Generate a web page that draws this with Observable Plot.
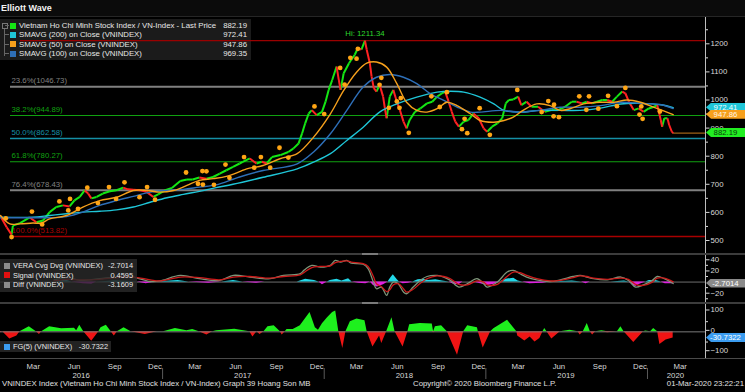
<!DOCTYPE html>
<html><head><meta charset="utf-8">
<script src="https://cdn.jsdelivr.net/npm/d3@7"></script>
<script src="https://cdn.jsdelivr.net/npm/@observablehq/plot@0.6"></script>
<style>
body{margin:0;background:#000;}
#root{position:relative;width:745px;height:392px;overflow:hidden;background:#000;
 font-family:"Liberation Sans",Arial,sans-serif;color:#e0e0e0;font-size:7.8px;}
.a{position:absolute;white-space:nowrap;}
.row{position:absolute;left:0;right:0;height:9px;line-height:9px;}
.sq{position:absolute;width:6px;height:6px;top:1.5px;}
.tag{position:absolute;left:706px;width:39px;height:9px;line-height:9px;text-align:center;font-size:7.8px;
 clip-path:polygon(5px 0,100% 0,100% 100%,5px 100%,0 50%);}
</style></head><body><div id="root"></div>
<script>
// ---------------- DATA ----------------
const titleText = "Elliott Wave";
const priceData = [
["2016-01-01",586],["2016-01-15",547],["2016-01-26",521],["2016-01-29",553],["2016-02-14",562],["2016-03-07",582],
["2016-03-22",565],["2016-04-06",571],["2016-04-21",601],["2016-05-06",619],["2016-05-21",625],["2016-06-05",621],
["2016-06-16",643],["2016-06-28",655],["2016-07-09",678],["2016-07-17",667],["2016-07-24",650],["2016-08-05",655],
["2016-08-19",667],["2016-09-04",675],["2016-09-19",679],["2016-10-04",688],["2016-10-15",682],["2016-10-27",681],
["2016-11-11",679],["2016-11-26",673],["2016-12-11",655],["2016-12-22",664],["2017-01-07",679],["2017-01-22",687],
["2017-02-10",712],["2017-02-25",717],["2017-03-10",717],["2017-03-25",724],["2017-04-10",720],["2017-04-25",726],
["2017-05-10",738],["2017-05-25",750],["2017-06-09",762],["2017-06-24",774],["2017-07-01",780],["2017-07-17",792],
["2017-08-01",774],["2017-08-13",780],["2017-08-24",774],["2017-09-05",797],["2017-09-24",804],["2017-10-12",815],
["2017-10-23",827],["2017-11-04",845],["2017-11-12",881],["2017-11-19",917],["2017-11-27",952],["2017-12-04",964],
["2017-12-15",946],["2017-12-27",958],["2018-01-04",994],["2018-01-11",1036],["2018-01-19",1071],["2018-01-29",1119],
["2018-02-03",1071],["2018-02-07",1036],["2018-02-14",1095],["2018-02-26",1131],["2018-03-03",1143],["2018-03-11",1161],
["2018-03-18",1185],["2018-03-26",1179],["2018-04-03",1211],["2018-04-07",1179],["2018-04-14",1131],["2018-04-18",1083],
["2018-04-23",1042],["2018-04-29",1030],["2018-05-06",1054],["2018-05-14",1012],["2018-05-18",970],["2018-05-22",935],
["2018-05-29",1012],["2018-06-06",1036],["2018-06-14",994],["2018-06-21",964],["2018-06-29",923],["2018-07-06",899],
["2018-07-13",929],["2018-07-25",958],["2018-08-06",970],["2018-08-21",988],["2018-09-02",994],["2018-09-13",1012],
["2018-09-24",1024],["2018-10-01",1030],["2018-10-09",994],["2018-10-16",958],["2018-10-24",923],["2018-11-01",905],
["2018-11-12",923],["2018-11-23",929],["2018-12-04",952],["2018-12-16",935],["2018-12-27",899],["2019-01-04",887],
["2019-01-15",905],["2019-01-27",917],["2019-02-07",935],["2019-02-15",988],["2019-02-22",1000],["2019-03-04",1002],
["2019-03-15",1012],["2019-03-22",982],["2019-04-03",994],["2019-04-14",976],["2019-04-29",976],["2019-05-14",958],
["2019-05-29",964],["2019-06-13",964],["2019-06-29",976],["2019-07-14",994],["2019-07-25",994],["2019-08-06",988],
["2019-08-17",994],["2019-08-29",988],["2019-09-09",994],["2019-09-21",1000],["2019-10-02",1000],["2019-10-13",994],
["2019-10-24",1012],["2019-11-05",1030],["2019-11-12",1024],["2019-11-20",994],["2019-12-01",964],["2019-12-12",970],
["2019-12-23",958],["2020-01-04",970],["2020-01-16",976],["2020-01-23",982],["2020-01-31",929],["2020-02-03",905],
["2020-02-08",935],["2020-02-15",935],["2020-02-19",911],["2020-02-25",887],["2020-02-28",882.19]];

const sma50Data = [
["2016-01-01",589],["2016-01-22",559],["2016-02-14",559],["2016-03-14",562],["2016-04-02",562],["2016-04-21",577],
["2016-05-29",589],["2016-07-05",619],["2016-08-12",642],["2016-09-19",654],["2016-10-27",678],["2016-11-26",678],
["2016-12-26",672],["2017-01-26",678],["2017-02-25",696],["2017-03-25",714],["2017-04-25",720],["2017-05-25",728],
["2017-06-24",745],["2017-07-10",755],["2017-08-16",767],["2017-09-23",791],["2017-11-01",809],["2017-12-08",868],
["2018-01-15",951],["2018-02-14",1034],["2018-03-15",1099],["2018-04-07",1131],["2018-04-29",1135],["2018-05-22",1117],
["2018-06-14",1058],["2018-07-06",992],["2018-07-29",963],["2018-08-21",957],["2018-09-13",969],["2018-10-05",992],
["2018-10-28",980],["2018-11-27",951],["2018-12-19",927],["2019-01-19",921],["2019-02-11",927],["2019-03-04",939],
["2019-03-26",963],["2019-04-26",986],["2019-05-26",980],["2019-06-18",963],["2019-07-10",969],["2019-08-10",986],
["2019-09-17",992],["2019-10-17",992],["2019-11-16",1000],["2019-12-16",992],["2020-01-16",974],["2020-02-28",947.86]];

const sma100Data = [
["2016-01-01",581],["2016-02-06",581],["2016-03-14",581],["2016-04-21",581],["2016-05-29",585],["2016-07-05",601],
["2016-08-12",625],["2016-09-19",642],["2016-10-27",657],["2016-12-04",672],["2017-01-11",678],["2017-02-17",682],
["2017-03-25",690],["2017-05-02",698],["2017-06-09",718],["2017-06-24",726],["2017-08-16",749],["2017-11-01",773],
["2017-12-08",815],["2018-01-15",880],["2018-02-21",963],["2018-03-30",1046],["2018-04-29",1081],["2018-05-29",1091],
["2018-06-29",1081],["2018-07-29",1058],["2018-08-29",1022],["2018-09-28",999],["2018-10-28",975],["2018-11-27",957],
["2018-12-19",957],["2019-02-04",963],["2019-03-19",957],["2019-05-03",963],["2019-06-18",974],["2019-08-02",974],
["2019-09-17",980],["2019-11-02",992],["2019-12-16",988],["2020-02-01",983],["2020-02-28",969.35]];

const sma200Data = [
["2016-01-01",583],["2016-03-14",583],["2016-04-21",589],["2016-05-29",595],["2016-07-05",601],["2016-08-12",604],
["2016-09-19",609],["2016-10-27",619],["2016-12-04",636],["2017-01-11",652],["2017-02-17",664],["2017-03-25",675],
["2017-05-02",688],["2017-06-09",700],["2017-08-16",725],["2017-11-01",755],["2017-12-08",779],["2018-01-15",809],
["2018-02-21",856],["2018-03-30",903],["2018-05-06",957],["2018-06-14",986],["2018-07-29",1010],["2018-09-13",1028],
["2018-10-13",1031],["2018-11-12",1028],["2018-12-19",1010],["2019-01-19",986],["2019-02-11",963],["2019-03-19",957],
["2019-05-03",963],["2019-06-18",963],["2019-08-02",963],["2019-09-17",971],["2019-11-02",986],["2019-12-16",988],
["2020-02-01",983],["2020-02-28",972.41]];

const pivotData = [
["2016-01-13",579],["2016-01-26",512],["2016-03-12",603],["2016-04-04",557],["2016-05-13",639],["2016-06-02",607],
["2016-06-06",648],["2016-06-24",612],["2016-07-15",688],["2016-08-08",633],["2016-09-02",690],["2016-09-18",648],
["2016-10-07",707],["2016-11-10",654],["2016-11-27",690],["2016-12-15",645],["2017-02-23",742],["2017-03-22",702],
["2017-04-01",747],["2017-04-10",746],["2017-04-02",699],["2017-04-27",698],["2017-05-23",770],["2017-06-01",723],
["2017-07-04",797],["2017-07-27",759],["2017-08-11",797],["2017-09-01",759],["2017-09-22",830],["2017-10-12",795],
["2017-12-10",977],["2018-01-01",950],["2018-02-06",1114],["2018-02-16",1055],["2018-03-01",1150],["2018-03-15",1147],
["2018-03-18",1182],["2018-05-10",1079],["2018-05-06",1054],["2018-05-27",972],["2018-06-14",995],["2018-06-23",1007],
["2018-06-20",972],["2018-07-11",883],["2018-08-31",1013],["2018-09-19",975],["2018-10-05",1028],["2018-11-08",896],
["2018-11-14",933],["2018-11-20",882],["2018-12-18",971],["2019-01-10",876],["2019-03-13",1036],["2019-05-07",957],
["2019-05-22",996],["2019-06-04",983],["2019-06-03",942],["2019-06-15",939],["2019-07-31",1013],["2019-08-16",965],
["2019-08-22",1013],["2019-09-12",969],["2019-10-04",1015],["2019-10-24",978],["2019-11-12",1043],["2019-12-14",948],
["2019-12-18",977],["2019-12-21",933],["2020-01-29",959]];

const fibPct = ["23.6%","38.2%","50.0%","61.8%","76.4%","100.0%"];
const fibValues = [1046.73, 944.89, 862.58, 780.27, 678.43, 513.82];
const hiValue = 1211.34;
const hiDate = "2018-04-03";

const mainLegendLabels = ["Vietnam Ho Chi Minh Stock Index / VN-Index - Last Price","SMAVG (200)  on Close (VNINDEX)","SMAVG (50)  on Close (VNINDEX)","SMAVG (100)  on Close (VNINDEX)"];
const mainLegendValues = ["882.19","972.41","947.86","969.35"];
const mainTicks = [500,600,700,800,900,1000,1100,1200];

const veraData = [
["2016-05-01",4],["2016-06-01",8],["2016-06-28",3],["2016-08-12",6],["2016-09-19",9],["2016-10-26",9],["2016-12-04",1],
["2016-12-26",2],["2017-02-10",12],["2017-03-25",6],["2017-05-10",3],["2017-06-10",12],["2017-07-17",9],["2017-09-01",6],
["2017-10-01",12],["2017-11-08",15],["2017-11-16",21],["2017-12-04",30],["2017-12-23",27],["2018-01-15",30],["2018-01-26",39],
["2018-02-07",36],["2018-02-21",39],["2018-03-03",34],["2018-03-30",32],["2018-04-10",24],["2018-04-22",0],["2018-04-29",-12],
["2018-05-10",-9],["2018-05-22",-24],["2018-05-29",-9],["2018-06-06",0],["2018-06-17",-3],["2018-06-29",-18],["2018-07-06",-21],
["2018-07-21",-9],["2018-08-06",3],["2018-08-21",10],["2018-09-13",12],["2018-09-28",9],["2018-10-13",3],["2018-11-01",-9],
["2018-11-20",-3],["2018-12-12",6],["2018-12-27",-3],["2019-01-04",-9],["2019-01-27",0],["2019-02-18",18],["2019-03-04",21],
["2019-03-19",15],["2019-04-03",9],["2019-04-26",4],["2019-05-26",1],["2019-06-18",4],["2019-07-17",10],["2019-08-02",12],
["2019-08-17",9],["2019-09-01",6],["2019-10-02",4],["2019-11-02",9],["2019-11-19",3],["2019-12-05",-9],["2019-12-23",-5],
["2020-01-12",3],["2020-01-23",10],["2020-02-08",6],["2020-02-28",-2.7014]];

const signalData = [
["2016-05-01",2],["2016-06-01",5],["2016-06-28",4],["2016-08-12",5],["2016-09-19",8],["2016-10-26",9],["2016-12-04",4],
["2016-12-26",2],["2017-02-10",9],["2017-03-25",8],["2017-05-10",4],["2017-06-10",9],["2017-07-17",10],["2017-09-01",7],
["2017-10-01",10],["2017-11-08",13],["2017-11-16",17],["2017-12-04",26],["2017-12-23",28],["2018-01-15",29],["2018-01-26",35],
["2018-02-07",37],["2018-02-21",38],["2018-03-03",36],["2018-03-30",33],["2018-04-10",28],["2018-04-22",10],["2018-04-29",-3],
["2018-05-10",-8],["2018-05-22",-17],["2018-05-29",-14],["2018-06-06",-5],["2018-06-17",-3],["2018-06-29",-12],["2018-07-06",-18],
["2018-07-21",-13],["2018-08-06",-2],["2018-08-21",6],["2018-09-13",11],["2018-09-28",10],["2018-10-13",6],["2018-11-01",-4],
["2018-11-20",-5],["2018-12-12",2],["2018-12-27",0],["2019-01-04",-5],["2019-01-27",-4],["2019-02-18",10],["2019-03-04",18],
["2019-03-19",17],["2019-04-03",12],["2019-04-26",6],["2019-05-26",2],["2019-06-18",3],["2019-07-17",8],["2019-08-02",11],
["2019-08-17",10],["2019-09-01",7],["2019-10-02",5],["2019-11-02",7],["2019-11-19",5],["2019-12-05",-4],["2019-12-23",-6],
["2020-01-12",0],["2020-01-23",7],["2020-02-08",7],["2020-02-28",0.4595]];

const diffData = [
["2016-05-01",0],["2016-05-15",2],["2016-05-25",4],["2016-06-10",0],["2016-07-05",-3],["2016-07-25",-4],["2016-08-05",0],
["2016-09-15",2],["2016-10-20",1],["2016-11-05",0],["2016-11-25",-3],["2016-12-15",0],["2017-02-05",3],["2017-03-01",0],
["2017-04-15",-2],["2017-05-15",0],["2017-06-10",3],["2017-07-01",0],["2017-08-01",-2],["2017-08-20",0],["2017-11-01",0],
["2017-11-20",5],["2017-12-10",3],["2017-12-20",0],["2017-12-28",-5],["2018-01-08",0],["2018-01-15",3],["2018-01-30",5],
["2018-02-10",2],["2018-02-25",6],["2018-03-05",0],["2018-03-20",-2],["2018-04-05",-3],["2018-04-15",0],["2018-04-22",-6],
["2018-05-01",-9],["2018-05-15",-5],["2018-05-25",0],["2018-06-01",8],["2018-06-06",13],["2018-06-15",4],["2018-06-20",0],
["2018-06-28",-3],["2018-07-10",-2],["2018-07-20",0],["2018-08-01",4],["2018-08-15",5],["2018-08-25",3],["2018-09-10",4],
["2018-09-25",2],["2018-10-10",0],["2018-10-20",-4],["2018-11-01",-5],["2018-11-10",0],["2018-12-05",0],["2018-12-20",-3],
["2019-01-05",-6],["2019-01-20",-4],["2019-02-01",0],["2019-02-15",5],["2019-03-05",7],["2019-03-15",2],["2019-03-25",0],
["2019-04-10",-3],["2019-05-10",-2],["2019-05-25",0],["2019-06-20",1],["2019-07-15",2],["2019-08-05",0],["2019-08-15",-3],
["2019-08-25",0],["2019-10-10",0],["2019-11-10",2],["2019-11-20",0],["2019-11-28",-5],["2019-12-05",-8],["2019-12-15",-4],
["2019-12-28",0],["2020-01-05",3],["2020-01-20",3],["2020-02-01",0],["2020-02-10",-3],["2020-02-28",-3.1609]];

const veraLegendLabels = ["VERA Cvg Dvg (VNINDEX)","Signal (VNINDEX)","Diff (VNINDEX)"];
const veraLegendValues = ["-2.7014","0.4595","-3.1609"];
const veraTicks = [40,20,-20];

const fgData = [
["2016-01-01",-5],["2016-01-06",0],["2016-01-22",-35],["2016-02-07",-20],["2016-02-14",0],["2016-03-06",25],["2016-03-22",0],
["2016-03-29",-13],["2016-04-03",0],["2016-04-21",25],["2016-05-18",15],["2016-06-16",18],["2016-06-21",5],["2016-06-28",33],
["2016-07-07",0],["2016-07-25",-46],["2016-08-10",0],["2016-08-15",20],["2016-08-27",33],["2016-09-07",0],["2016-09-14",-20],
["2016-09-21",0],["2016-10-06",20],["2016-10-22",0],["2016-11-23",-13],["2016-12-20",0],["2017-01-03",0],["2017-01-30",16],
["2017-02-25",5],["2017-03-10",12],["2017-03-25",0],["2017-04-11",-16],["2017-04-24",0],["2017-05-03",5],["2017-06-13",13],
["2017-07-17",0],["2017-07-24",-25],["2017-08-02",0],["2017-08-09",-13],["2017-08-18",0],["2017-08-27",25],["2017-09-10",30],
["2017-09-24",0],["2017-09-28",-16],["2017-10-05",0],["2017-10-09",11],["2017-10-23",11],["2017-11-08",30],["2017-11-30",95],
["2017-12-12",20],["2017-12-19",8],["2017-12-28",40],["2018-01-09",70],["2018-01-20",95],["2018-01-27",103],["2018-02-03",0],
["2018-02-12",-82],["2018-02-19",0],["2018-03-01",50],["2018-03-16",63],["2018-04-03",55],["2018-04-08",0],["2018-04-21",-74],
["2018-05-06",-20],["2018-05-11",-57],["2018-05-22",0],["2018-06-03",69],["2018-06-10",0],["2018-06-28",-74],["2018-07-09",0],
["2018-07-13",35],["2018-08-06",41],["2018-09-02",38],["2018-09-05",-5],["2018-09-09",25],["2018-09-23",30],["2018-10-06",0],
["2018-10-29",-115],["2018-11-12",0],["2018-11-21",30],["2018-12-13",20],["2018-12-15",0],["2018-12-26",-79],["2019-01-12",0],
["2019-01-19",15],["2019-02-19",57],["2019-03-12",0],["2019-03-14",-20],["2019-03-30",-45],["2019-04-11",-25],["2019-04-22",-50],
["2019-05-03",-33],["2019-05-10",0],["2019-05-14",16],["2019-05-19",0],["2019-05-30",-35],["2019-06-18",0],["2019-07-10",8],
["2019-07-28",0],["2019-08-02",-16],["2019-08-09",0],["2019-08-18",41],["2019-08-25",0],["2019-08-30",-16],["2019-09-06",0],
["2019-09-20",5],["2019-10-03",-5],["2019-10-25",0],["2019-11-02",25],["2019-11-09",0],["2019-12-01",-52],["2019-12-23",0],
["2019-12-28",4],["2020-01-08",0],["2020-01-15",16],["2020-01-24",0],["2020-01-29",-62],["2020-02-12",-40],["2020-02-28",-30.7322]];
const fgLegendLabel = "FG(5) (VNINDEX)";
const fgLegendValue = "-30.7322";
const fgTicks = [100,0,-100];

const monthTicks = ["2016-03-15","2016-06-15","2016-09-15","2016-12-15","2017-03-15","2017-06-15","2017-09-15","2017-12-15",
 "2018-03-15","2018-06-15","2018-09-15","2018-12-15","2019-03-15","2019-06-15","2019-09-15","2019-12-15","2020-03-15"];
const yearLabels = ["2016","2017","2018","2019","2020"];
const yearLabelAt = ["2016-07-01","2017-07-01","2018-07-01","2019-07-01","2020-03-04"];
const yearBounds = ["2017-01-01","2018-01-01","2019-01-01","2020-01-01"];
const footerLeft = "VNINDEX Index (Vietnam Ho Chi Minh Stock Index / VN-Index) Graph 39 Hoang Son MB";
const footerMid = "Copyright\u00a9 2020 Bloomberg Finance L.P.";
const footerRight = "01-Mar-2020 23:22:21";

// ---------------- STYLE ----------------
const FONT = '"Liberation Sans",Arial,sans-serif';
const FS = 7.8;
const C = {green:"#14e614", red:"#ff2222", cyan:"#1fc6d8", orange:"#f6a01c", blue:"#2e6fb8", dot:"#ffa514",
  fib:{"23.6%":"#808080","38.2%":"#10a010","50.0%":"#1590a6","61.8%":"#10a010","76.4%":"#808080","100.0%":"#a80000"},
  fibW:{"23.6%":2,"38.2%":1.2,"50.0%":1.5,"61.8%":1.2,"76.4%":2,"100.0%":1.5},
  hi:"#9a0000", vera:"#7d9478", signal:"#cc1a1a", pos:"#22d8e8", neg:"#e020e0", fgPos:"#1ef01e", fgNeg:"#f01414", axis:"#d8d8d8"};
const W = 745, MR = 40;
const xDomain = [new Date("2016-01-01"), new Date("2020-05-11")];
const parse = arr => arr.map(([d, v]) => ({date: new Date(d), v}));

const root = document.getElementById("root");
function div(css, html) { const e = document.createElement("div"); e.className = "a"; e.style.cssText = css; if (html != null) e.textContent = html; root.appendChild(e); return e; }
function place(svg, top, z) { svg.style.position = "absolute"; svg.style.left = "0px"; svg.style.top = top + "px"; svg.style.zIndex = z; root.appendChild(svg); return svg; }
function base(h, ydom) {
  return {width: W, height: h, marginLeft: 0, marginRight: MR, marginTop: 0, marginBottom: 0,
    x: {type: "utc", domain: xDomain, axis: null}, y: {domain: ydom},
    style: {background: "transparent", color: C.axis, fontFamily: FONT, fontSize: FS + "px", overflow: "visible"}};
}
const signed = d => d < 0 ? "\u2212" + (-d) : String(d);

// ---------------- TITLE ----------------
div("left:0;top:0;width:745px;height:16px;background:#0b0b0b;border-bottom:1px solid #262626;");
div("left:1px;top:3px;font-weight:bold;font-size:9px;color:#f2f2f2;", titleText);

// ---------------- MAIN PANEL ----------------
const MAIN_TOP = 17, MAIN_H = 236;
const price = parse(priceData);
const segs = price.slice(1).map((d, i) => ({x1: price[i].date, y1: price[i].v, x2: d.date, y2: d.v}));
const fibs = fibPct.map((p, i) => ({p, v: fibValues[i]}));
const last = price[price.length - 1];

// legend (behind the chart)
const lg = div("left:0;top:19px;width:251px;height:41px;background:#1b1b1b;z-index:0;");
lg.innerHTML = `<div style="position:absolute;left:2px;top:4px;width:4px;height:4px;border:1px solid #777"></div>
<div style="position:absolute;left:4px;top:10px;width:1px;height:27px;background:#666"></div>`;
const legCols = [C.green, C.cyan, C.orange, C.blue];
mainLegendLabels.forEach((t, i) => {
  const r = document.createElement("div"); r.className = "row"; r.style.top = (2 + i * 9.4) + "px";
  r.innerHTML = `<div style="position:absolute;left:5px;top:4px;width:4px;height:1px;background:#666"></div>
  <div class="sq" style="left:10px;background:${legCols[i]}"></div>
  <span style="position:absolute;left:19px;color:#e8e8e8">${t}</span>
  <span style="position:absolute;right:4px;color:#e8e8e8">${mainLegendValues[i]}</span>`;
  lg.appendChild(r);
});

const mainPlot = Plot.plot({
  ...base(MAIN_H, [453.7, 1293.6]),
  marks: [
    Plot.ruleY(fibs, {y: "v", stroke: d => C.fib[d.p], strokeWidth: d => C.fibW[d.p], insetLeft: 10}),
    Plot.text(fibs, {frameAnchor: "left", y: "v", text: d => `${d.p}(${d.v.toFixed(2)})`, fill: d => C.fib[d.p],
      textAnchor: "start", dx: 11, dy: -6, fontSize: FS}),
    Plot.ruleY([hiValue], {stroke: C.hi, strokeWidth: 1.2, insetLeft: 20}),
    Plot.ruleY([last.v], {x1: () => last.date, x2: () => xDomain[1], stroke: "#c77b1e", strokeWidth: 1}),
    Plot.link(segs.filter(d => d.y2 >= d.y1), {x1: "x1", y1: "y1", x2: "x2", y2: "y2", stroke: C.green, strokeWidth: 2}),
    Plot.link(segs.filter(d => d.y2 < d.y1), {x1: "x1", y1: "y1", x2: "x2", y2: "y2", stroke: C.red, strokeWidth: 2}),
    Plot.line(parse(sma200Data), {x: "date", y: "v", stroke: C.cyan, strokeWidth: 1.4, curve: "catmull-rom"}),
    Plot.line(parse(sma100Data), {x: "date", y: "v", stroke: C.blue, strokeWidth: 1.4, curve: "catmull-rom"}),
    Plot.line(parse(sma50Data), {x: "date", y: "v", stroke: C.orange, strokeWidth: 1.4, curve: "catmull-rom"}),
    Plot.dot(parse(pivotData), {x: "date", y: "v", r: 2.4, fill: C.dot, stroke: null}),
    Plot.text([{date: new Date(hiDate), v: hiValue}], {x: "date", y: "v", text: () => `Hi: ${hiValue}`, dy: -7,
      fill: "#2ed82e", fontSize: FS}),
    Plot.ruleX([xDomain[1]], {stroke: "#bdbdbd", strokeWidth: 1}),
    Plot.axisY({anchor: "right", ticks: d3.range(450, 1300, 50).filter(v => v % 100), tickSize: 2, tickFormat: () => "", label: null, color: C.axis}),
    Plot.axisY({anchor: "right", ticks: mainTicks, tickSize: 3.5, tickPadding: 1.5, tickFormat: d => String(d), label: null, color: C.axis, fontSize: FS})
  ]
});
place(mainPlot, MAIN_TOP, 1);

// ---------------- SEPARATORS ----------------
div("left:0;top:253px;width:745px;height:2px;background:#3c3c3c;z-index:3;");
div("left:362px;top:253px;width:16px;height:2px;background:#7a7a7a;z-index:3;");
div("left:0;top:302px;width:745px;height:2px;background:#3c3c3c;z-index:3;");
div("left:362px;top:302px;width:16px;height:2px;background:#7a7a7a;z-index:3;");
div("left:0;top:358px;width:745px;height:1px;background:#4a4a4a;z-index:3;");

// ---------------- VERA PANEL ----------------
const VERA_TOP = 255, VERA_H = 47;
const diff = parse(diffData);
const veraPlot = Plot.plot({
  ...base(VERA_H, [-36.7, 47.7]),
  marks: [
    Plot.ruleY([0], {stroke: "#6e6e6e", strokeWidth: 1}),
    Plot.areaY(diff, {x: "date", y: d => Math.max(0, d.v), fill: C.pos}),
    Plot.areaY(diff, {x: "date", y: d => Math.min(0, d.v), fill: C.neg}),
    Plot.line(parse(veraData), {x: "date", y: "v", stroke: C.vera, strokeWidth: 1.3, curve: "catmull-rom"}),
    Plot.line(parse(signalData), {x: "date", y: "v", stroke: C.signal, strokeWidth: 1.3, curve: "catmull-rom"}),
    Plot.ruleX([xDomain[1]], {stroke: "#bdbdbd", strokeWidth: 1}),
    Plot.axisY({anchor: "right", ticks: [30, 10, -10, -30], tickSize: 2, tickFormat: () => "", label: null, color: C.axis}),
    Plot.axisY({anchor: "right", ticks: veraTicks, tickSize: 3.5, tickPadding: 1.5, tickFormat: signed, label: null, color: C.axis, fontSize: FS})
  ]
});
place(veraPlot, VERA_TOP, 1);
const vl = div("left:0;top:259px;width:137px;height:33px;background:rgba(42,42,42,0.82);z-index:2;font-size:7.4px;");
const vCols = ["#8c8c8c", "#e01010", "#8c8c8c"];
veraLegendLabels.forEach((t, i) => {
  const r = document.createElement("div"); r.className = "row"; r.style.top = (2 + i * 9.5) + "px";
  r.innerHTML = `<div class="sq" style="left:4px;background:${vCols[i]}"></div>
  <span style="position:absolute;left:13px;color:#e8e8e8">${t}</span>
  <span style="position:absolute;right:4px;color:#e8e8e8">${veraLegendValues[i]}</span>`;
  vl.appendChild(r);
});

// ---------------- FG PANEL ----------------
const FG_TOP = 304, FG_H = 54;
const fg = parse(fgData);
const fgPlot = Plot.plot({
  ...base(FG_H, [-131, 134.4]),
  marks: [
    Plot.areaY(fg, {x: "date", y: d => Math.max(0, d.v), fill: C.fgPos}),
    Plot.areaY(fg, {x: "date", y: d => Math.min(0, d.v), fill: C.fgNeg}),
    Plot.ruleY([0], {stroke: "#7a7a7a", strokeWidth: 1}),
    Plot.ruleX([xDomain[1]], {stroke: "#bdbdbd", strokeWidth: 1}),
    Plot.axisY({anchor: "right", ticks: [50, -50], tickSize: 2, tickFormat: () => "", label: null, color: C.axis}),
    Plot.axisY({anchor: "right", ticks: fgTicks, tickSize: 3.5, tickPadding: 1.5, tickFormat: signed, label: null, color: C.axis, fontSize: FS, dy: -1.5})
  ]
});
place(fgPlot, FG_TOP, 1);
const fl = div("left:0;top:341px;width:111px;height:11px;background:rgba(42,42,42,0.82);z-index:2;font-size:7.4px;");
fl.innerHTML = `<div class="row" style="top:1px"><div class="sq" style="left:4px;background:#3b9cf0"></div>
<span style="position:absolute;left:13px;color:#e8e8e8">${fgLegendLabel}</span>
<span style="position:absolute;right:3px;color:#e8e8e8">${fgLegendValue}</span></div>`;

// ---------------- VALUE TAGS ----------------
function tag(plot, top, value, text, bg, fg) {
  const y = top + plot.scale("y").apply(value);
  const e = document.createElement("div"); e.className = "tag";
  e.style.top = (y - 4.5) + "px"; e.style.background = bg; e.style.color = fg; e.style.zIndex = 5; e.textContent = text;
  root.appendChild(e);
}
tag(mainPlot, MAIN_TOP, 972.41, mainLegendValues[1], C.cyan, "#f4ffff");
tag(mainPlot, MAIN_TOP, 947.86, mainLegendValues[2], C.orange, "#fff6e6");
tag(mainPlot, MAIN_TOP, 882.19, mainLegendValues[0], "#22ee22", "#0a3a0a");
tag(veraPlot, VERA_TOP, -2.7014, veraLegendValues[0], "#8a8a8a", "#ffffff");
tag(fgPlot, FG_TOP, -30.7322, fgLegendValue, "#3b9cf0", "#ffffff");

// ---------------- DATE AXIS ----------------
const axisPlot = Plot.plot({
  ...base(22, [0, 1]),
  marks: [
    Plot.text(monthTicks.map(d => new Date(d)), {x: d => d, frameAnchor: "top", dy: 4.5, text: d3.utcFormat("%b"), fill: C.axis, fontSize: FS}),
    Plot.text(yearLabels, {x: (d, i) => new Date(yearLabelAt[i]), frameAnchor: "top", dy: 13.5, text: d => d, fill: C.axis, fontSize: FS}),
    Plot.ruleX(yearBounds.map(d => new Date(d)), {stroke: "#5a5a5a", insetTop: 10, insetBottom: 1})
  ]
});
place(axisPlot, 358, 1);

// ---------------- FOOTER ----------------
div("left:2px;top:379px;font-size:7.8px;line-height:10px;color:#e0e0e0;", footerLeft);
div("left:413px;top:379px;font-size:7.8px;line-height:10px;color:#e0e0e0;", footerMid);
div("right:1px;top:379px;font-size:7.8px;line-height:10px;color:#e0e0e0;", footerRight);
</script></body></html>
